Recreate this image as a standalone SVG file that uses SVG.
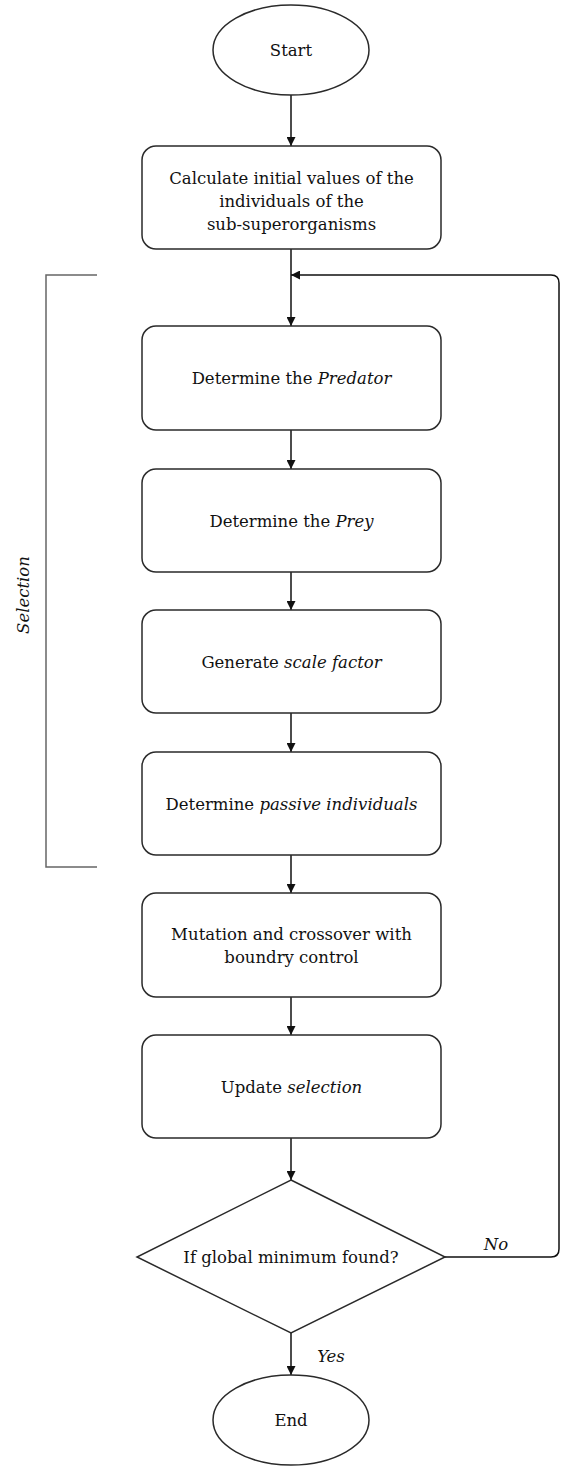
<svg xmlns="http://www.w3.org/2000/svg" width="562" height="1466" viewBox="0 0 562 1466">
<style>
.shape{fill:#fff;stroke:#2a2a2a;stroke-width:1.5}
.t{font-family:"DejaVu Serif","Liberation Serif",serif;font-size:16.5px;fill:#111;text-anchor:middle}
.i{font-style:italic}
.conn{fill:none;stroke:#111;stroke-width:1.5}
.br{fill:none;stroke:#666;stroke-width:1.5}
</style>
<defs>
<marker id="ah" viewBox="0 0 10 10" refX="10" refY="5" markerWidth="9" markerHeight="9" markerUnits="userSpaceOnUse" orient="auto">
<path d="M0,0 L10,5 L0,10 z" fill="#111"/>
</marker>
</defs>
<g id="selection-bracket">
<path class="br" d="M97,275 H46 V867 H97"/>
<text class="t i" transform="translate(29,595) rotate(-90)">Selection</text>
</g>
<g id="connectors">
<line class="conn" x1="291" y1="95" x2="291" y2="146" marker-end="url(#ah)"/>
<line class="conn" x1="291" y1="249" x2="291" y2="326" marker-end="url(#ah)"/>
<line class="conn" x1="291" y1="430" x2="291" y2="469" marker-end="url(#ah)"/>
<line class="conn" x1="291" y1="572" x2="291" y2="610" marker-end="url(#ah)"/>
<line class="conn" x1="291" y1="713" x2="291" y2="752" marker-end="url(#ah)"/>
<line class="conn" x1="291" y1="855" x2="291" y2="893" marker-end="url(#ah)"/>
<line class="conn" x1="291" y1="997" x2="291" y2="1035" marker-end="url(#ah)"/>
<line class="conn" x1="291" y1="1138" x2="291" y2="1180" marker-end="url(#ah)"/>
<line class="conn" x1="291" y1="1333" x2="291" y2="1375" marker-end="url(#ah)"/>
<path class="conn" d="M445,1257 H551 Q559,1257 559,1249 V283 Q559,275 551,275 H291" marker-end="url(#ah)"/>
<text class="t i" x="496" y="1250">No</text>
<text class="t i" x="331" y="1362">Yes</text>
</g>
<g id="start">
<ellipse class="shape" cx="291" cy="50" rx="78" ry="45"/>
<text class="t" x="291" y="56">Start</text>
</g>
<g id="init">
<rect class="shape" x="142" y="146" width="299" height="103" rx="14"/>
<text class="t" x="291.5" y="184">Calculate initial values of the</text>
<text class="t" x="291.5" y="207">individuals of the</text>
<text class="t" x="291.5" y="230">sub-superorganisms</text>
</g>
<g id="predator">
<rect class="shape" x="142" y="326" width="299" height="104" rx="14"/>
<text class="t" x="291.5" y="384">Determine the <tspan class="i">Predator</tspan></text>
</g>
<g id="prey">
<rect class="shape" x="142" y="469" width="299" height="103" rx="14"/>
<text class="t" x="291.5" y="527">Determine the <tspan class="i">Prey</tspan></text>
</g>
<g id="scale">
<rect class="shape" x="142" y="610" width="299" height="103" rx="14"/>
<text class="t" x="291.5" y="668">Generate <tspan class="i">scale factor</tspan></text>
</g>
<g id="passive">
<rect class="shape" x="142" y="752" width="299" height="103" rx="14"/>
<text class="t" x="291.5" y="810">Determine <tspan class="i">passive individuals</tspan></text>
</g>
<g id="mutation">
<rect class="shape" x="142" y="893" width="299" height="104" rx="14"/>
<text class="t" x="291.5" y="940">Mutation and crossover with</text>
<text class="t" x="291.5" y="963">boundry control</text>
</g>
<g id="update">
<rect class="shape" x="142" y="1035" width="299" height="103" rx="14"/>
<text class="t" x="291.5" y="1093">Update <tspan class="i">selection</tspan></text>
</g>
<g id="decision">
<polygon class="shape" points="291,1180 445,1257 291,1333 137,1257"/>
<text class="t" x="291" y="1263">If global minimum found?</text>
</g>
<g id="end">
<ellipse class="shape" cx="291" cy="1420" rx="78" ry="45"/>
<text class="t" x="291" y="1426">End</text>
</g>
</svg>
